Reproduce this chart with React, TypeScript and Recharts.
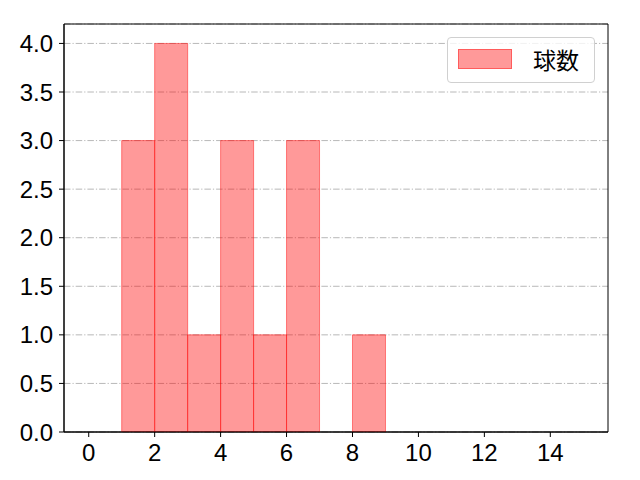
import React from "react";
import {
  ComposedChart,
  Bar,
  XAxis,
  YAxis,
  CartesianGrid,
  ReferenceArea,
} from "recharts";

const binStarts = [0, 1, 2, 3, 4, 5, 6, 7, 8, 9, 10, 11, 12, 13, 14];
const counts = [0, 3, 4, 1, 3, 1, 3, 0, 1, 0, 0, 0, 0, 0, 0];
const xTicks = [0, 2, 4, 6, 8, 10, 12, 14];
const yTicks = [0, 0.5, 1, 1.5, 2, 2.5, 3, 3.5, 4];
const xDomain = [-0.75, 15.75];
const yDomain = [0, 4.2];
const seriesName = "球数";

const data = binStarts.map((s, i) => ({
  x: s + 0.5,
  count: counts[i] > 0 ? counts[i] : null,
}));

const FONT = "'Noto Sans CJK JP', 'Noto Sans', sans-serif";
const TICK_FONT = "'Liberation Sans', 'Noto Sans CJK JP', sans-serif";
const TICK_SIZE = 24;

const XTick = (props: any) => {
  const { x, y, payload } = props;
  return (
    <text
      x={x}
      y={y}
      textAnchor="middle"
      dominantBaseline="hanging"
      style={{ fontSize: TICK_SIZE, fontFamily: TICK_FONT, fill: "#000" }}
    >
      {String(payload.value)}
    </text>
  );
};

const YTick = (props: any) => {
  const { x, y, payload } = props;
  return (
    <text
      x={x}
      y={y}
      textAnchor="end"
      dominantBaseline="central"
      style={{ fontSize: TICK_SIZE, fontFamily: TICK_FONT, fill: "#000" }}
    >
      {Number(payload.value).toFixed(1)}
    </text>
  );
};

const LegendBox = () => (
  <div
    style={{
      position: "absolute",
      left: 447,
      top: 37,
      width: 148,
      height: 46,
      border: "1px solid #d0d0d0",
      borderRadius: 4,
      background: "rgba(255,255,255,0.8)",
      boxSizing: "border-box",
      fontFamily: FONT,
    }}
  >
    <div
      style={{
        position: "absolute",
        left: 10,
        top: 11,
        width: 54,
        height: 20,
        background: "rgba(255,0,0,0.4)",
        border: "1px solid rgba(255,0,0,0.4)",
        boxSizing: "border-box",
      }}
    />
    <div
      style={{
        position: "absolute",
        left: 85,
        top: 5,
        fontSize: 23,
        lineHeight: "32px",
        color: "#000",
      }}
    >
      {seriesName}
    </div>
  </div>
);

export default function App() {
  return (
    <div style={{ position: "absolute", left: 0, top: 0, width: 640, height: 480, background: "#fff" }}>
      <ComposedChart
        width={640}
        height={480}
        data={data}
        margin={{ top: 24, right: 32, bottom: 0, left: 0 }}
        barCategoryGap={0}
        barGap={0}
      >
        <CartesianGrid
          horizontal={true}
          vertical={false}
          stroke="#b0b0b0"
          strokeDasharray="6.5 2 1.2 2"
          strokeWidth={0.9}
        />
        <XAxis
          dataKey="x"
          type="number"
          domain={xDomain}
          ticks={xTicks}
          allowDataOverflow
          height={48}
          stroke="#000"
          tickSize={5}
          tick={<XTick />}
          tickMargin={6}
        />
        <YAxis
          type="number"
          domain={yDomain}
          ticks={yTicks}
          allowDataOverflow
          width={64}
          stroke="#000"
          tickSize={5}
          tickMargin={6}
          tick={<YTick />}
        />
        <Bar
          dataKey="count"
          name={seriesName}
          fill="rgba(255,0,0,0.4)"
          stroke="rgba(255,0,0,0.45)"
          strokeWidth={1}
          isAnimationActive={false}
        />
        <ReferenceArea
          x1={xDomain[0]}
          x2={xDomain[1]}
          y1={yDomain[0]}
          y2={yDomain[1]}
          fill="none"
          fillOpacity={0}
          stroke="#000"
          strokeWidth={1}
          ifOverflow="visible"
        />
      </ComposedChart>
      <LegendBox />
    </div>
  );
}
